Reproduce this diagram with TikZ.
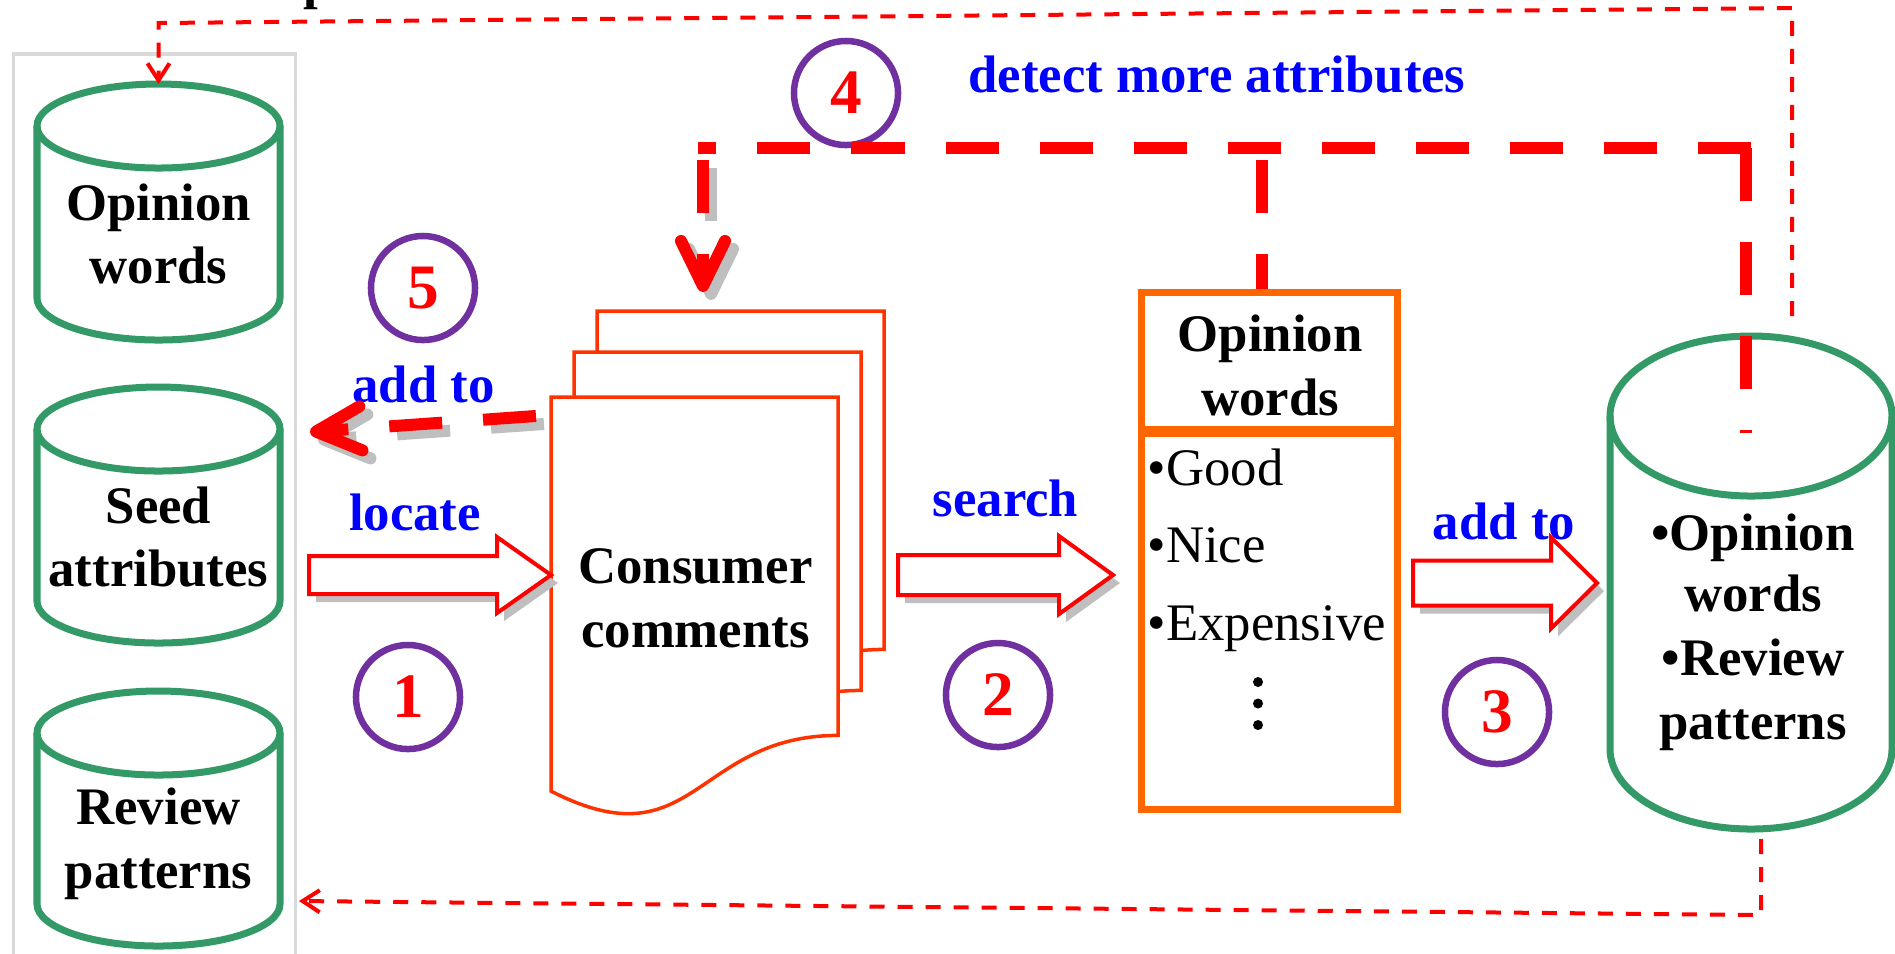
\documentclass[tikz,border=0pt]{standalone}
\usepackage{fontspec}
\setmainfont{Liberation Serif}
\usetikzlibrary{arrows.meta,calc}

\definecolor{cylgreen}{RGB}{51,153,102}
\definecolor{ringpurple}{RGB}{112,48,160}
\definecolor{flowred}{RGB}{255,0,0}
\definecolor{labelblue}{RGB}{0,0,255}
\definecolor{tableorange}{RGB}{255,102,0}
\definecolor{docred}{RGB}{255,51,0}
\definecolor{shadowgray}{RGB}{191,191,191}
\definecolor{framegray}{RGB}{217,217,217}

\tikzset{
  txt/.style={inner sep=0pt, anchor=base, font=\fontsize{15}{18}\selectfont\bfseries},
  bluetxt/.style={txt, text=labelblue},
  itemtxt/.style={inner sep=0pt, anchor=base west, font=\fontsize{15}{18}\selectfont},
  cylline/.style={draw=cylgreen, line width=0.07cm},
  docline/.style={draw=docred, line width=0.035cm, fill=white, line join=miter},
  ring/.style={circle, draw=ringpurple, line width=0.065cm, minimum size=1.04cm, inner sep=0pt,
               text=flowred, font=\fontsize{18}{20}\selectfont\bfseries},
  blockarrow/.style={draw=flowred, line width=0.04cm, fill=white, line join=miter},
  blockshadow/.style={fill=shadowgray, draw=none},
  bigflow/.style={draw=flowred, line width=0.12cm, dash pattern=on 0.53cm off 0.41cm},
  bigshadow/.style={draw=shadowgray, line width=0.12cm, dash pattern=on 0.53cm off 0.41cm},
  bighead/.style={-{Straight Barb[length=0.45cm,width=0.44cm,round]}},
  loopflow/.style={draw=flowred, line width=0.04cm, dash pattern=on 0.15cm off 0.13cm,
                   -{Straight Barb[length=0.17cm,width=0.22cm]}},
  anchorbox/.style={inner sep=0pt, outer sep=0pt, draw=none},
}

% database cylinder: name, centre x, top, bottom, x radius, y radius
\newcommand\drawstore[6]{%
  \draw[cylline] ({#2-#5},{#3+#6}) -- ({#2-#5},{#4-#6})
     arc[start angle=180, end angle=0, x radius=#5, y radius=#6] -- ({#2+#5},{#3+#6});
  \draw[cylline] (#2,{#3+#6}) ellipse [x radius=#5, y radius=#6];
  \node[anchorbox, minimum width={2*#5*0.01cm}, minimum height={(#4-#3)*0.01cm}] (#1) at (#2,{(#3+#4)/2}) {};
}

% sheet with a wavy lower edge: name, left, top
\newcommand\drawsheet[3]{%
  \draw[docline] (#2,#3) -- ({#2+287},#3) -- ({#2+287},{#3+338.4})
     .. controls ({#2+143.5},{#3+338.4}) and ({#2+143.5},{#3+467.4}) .. (#2,{#3+394.1}) -- cycle;
  \node[anchorbox, minimum width=2.87cm, minimum height=4.22cm] (#1) at ({#2+143.5},{#3+211}) {};
}

% hollow block arrow with a drop shadow: name, tail x, head x, tip x, centre y, shaft half, head half
\newcommand\drawblock[7]{%
  \fill[blockshadow, shift={(7,8)}] (#2,{#5-#6}) -- (#3,{#5-#6}) -- (#3,{#5-#7}) -- (#4,#5)
     -- (#3,{#5+#7}) -- (#3,{#5+#6}) -- (#2,{#5+#6}) -- cycle;
  \draw[blockarrow] (#2,{#5-#6}) -- (#3,{#5-#6}) -- (#3,{#5-#7}) -- (#4,#5)
     -- (#3,{#5+#7}) -- (#3,{#5+#6}) -- (#2,{#5+#6}) -- cycle;
  \coordinate (#1) at (#4,#5);
}

\begin{document}
\begin{tikzpicture}[x=0.01cm, y=-0.01cm]
\useasboundingbox (0,0) rectangle (1895,953);
\clip (0,0) rectangle (1895,953);

% tail of the heading above
\node[txt, anchor=base west] (titleTail) at (303,-2) {p};

% store group frame
\node[draw=framegray, line width=0.035cm, minimum width=2.82cm, minimum height=9.46cm, inner sep=0pt]
  (store) at (154.5,527.5) {};

% databases
\drawstore{ow}{158.5}{84}{340}{121.5}{42}
\drawstore{seed}{158.5}{387}{643}{121.5}{42}
\drawstore{rp}{158.5}{691}{946}{121.5}{42}
\drawstore{opR}{1751}{336}{829}{141}{80}

\node[txt] (owA) at (158.5,220.5) {Opinion};
\node[txt] (owB) at (158.5,283.5) {words};
\node[txt] (seedA) at (158.5,523) {Seed};
\node[txt] (seedB) at (158.5,586) {attributes};
\node[txt] (rpA) at (158.5,824) {Review};
\node[txt] (rpB) at (158.5,888) {patterns};

\node[txt] (opRA) at (1753,550) {•Opinion};
\node[txt] (opRB) at (1753,611) {words};
\node[txt] (opRC) at (1753,675) {•Review};
\node[txt] (opRD) at (1753,739) {patterns};

% stack of comment sheets
\drawsheet{sheetBack}{597}{311}
\drawsheet{sheetMid}{574}{352}
\drawsheet{docs}{551}{397}
\node[txt] (docsA) at (695.5,583) {Consumer};
\node[txt] (docsB) at (695.5,647) {comments};

% opinion word list
\node[draw=tableorange, line width=0.07cm, minimum width=2.56cm, minimum height=1.365cm, inner sep=0pt]
  (owHead) at (1269.5,360.75) {};
\node[draw=tableorange, line width=0.07cm, minimum width=2.56cm, minimum height=3.76cm, inner sep=0pt]
  (owBody) at (1269.5,621.5) {};
\node[txt] (owHeadA) at (1270,351) {Opinion};
\node[txt] (owHeadB) at (1270,415) {words};
\node[itemtxt] (itGood) at (1147,485) {•Good};
\node[itemtxt] (itNice) at (1147,562) {•Nice};
\node[itemtxt] (itExp) at (1147,640) {•Expensive};
\fill (1258,682) circle[radius=5] (1258,703.5) circle[radius=5] (1258,725) circle[radius=5];

% block arrows between the stages
\drawblock{tipLocate}{309}{497}{551}{575}{19}{38}
\drawblock{tipSearch}{898}{1059}{1113}{575}{20}{39}
\drawblock{tipAdd}{1413}{1551}{1597}{583}{22.5}{45.5}

% step numbers
\node[ring] (n1) at (408,697) {1};
\node[ring] (n2) at (998,695) {2};
\node[ring] (n3) at (1497,712) {3};
\node[ring] (n4) at (846,93) {4};
\node[ring] (n5) at (423,288) {5};

% step labels
\node[bluetxt] (lbLocate) at (415,530) {locate};
\node[bluetxt] (lbAddSeed) at (423.5,402) {add to};
\node[bluetxt] (lbSearch) at (1005.5,516) {search};
\node[bluetxt] (lbAddStore) at (1504,539) {add to};
\node[bluetxt] (lbDetect) at (1217,92) {detect more attributes};

% step 5: add new attributes back to the seed set
\coordinate (c5s) at ([yshift=-0.18cm]docs.north west);
\coordinate (c5e) at (310,432);
\draw[bigshadow, bighead, dash phase=0.79cm] ($(c5s)+(8,8)$) -- ($(c5e)+(8,8)$);
\draw[bigflow, bighead, dash phase=0.79cm] (c5s) -- (c5e);

% step 4: feedback loop to detect more attributes
\coordinate (k4R) at (1746,148);
\coordinate (k4M) at (1262,148);
\coordinate (k4L) at (703,148);
\coordinate (k4Rend) at (1746,433);
\coordinate (k4tip) at (703,292);
\draw[bigflow] (k4R) -- (k4Rend);
\draw[bigflow] ([xshift=0.05cm]k4R) -- ([xshift=-0.05cm]k4L);
\draw[bigflow, dash phase=0.82cm] (k4M) -- (k4M |- owHead.north);
\draw[bigshadow, bighead, dash phase=0.82cm] ($(k4L)+(8,8)$) -- ($(k4tip)+(8,8)$);
\draw[bigflow, bighead, dash phase=0.82cm] (k4L) -- (k4tip);

% outer loops from the result store back to the store group
\coordinate (loopS) at ([xshift=0.41cm,yshift=0.2cm]opR.north);
\coordinate (loopTR) at (1792,8);
\coordinate (loopTL) at (158.5,23);
\draw[loopflow] (loopS) -- (loopTR) -- (loopTL) -- (ow.north);

\coordinate (loopB) at ([xshift=0.1cm,yshift=-0.1cm]opR.south);
\coordinate (loopBR) at (1761,915);
\coordinate (rpIn) at (299,901);
\draw[loopflow] (loopB) -- (loopBR) -- (rpIn);
\end{tikzpicture}
\end{document}
